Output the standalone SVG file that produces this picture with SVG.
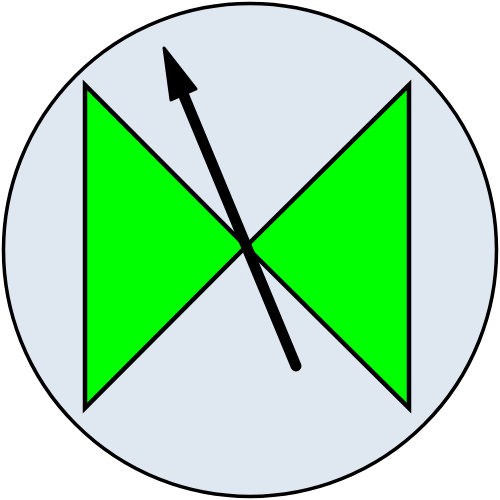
<svg xmlns="http://www.w3.org/2000/svg" width="500" height="500" viewBox="0 0 500 500">
<style>
.bg{fill:#dfe8f1;stroke:#000;stroke-width:3.5}
.tri{fill:#00ff00;stroke:#000;stroke-width:4.5;stroke-linejoin:miter}
.shaft{stroke:#000;stroke-width:11;stroke-linecap:round;fill:none}
.head{fill:#000;stroke:#000;stroke-width:3;stroke-linejoin:round}
</style>
<rect width="500" height="500" fill="#fff"/>
<g id="circle"><circle class="bg" cx="250" cy="250" r="246.5"/></g>
<g id="left-triangle"><polygon class="tri" points="85,85 85,408 246,246.5"/></g>
<g id="right-triangle"><polygon class="tri" points="409,85 409,408 246,246.5"/></g>
<g id="connectors">
<line class="shaft" x1="296" y1="366" x2="184" y2="96"/>
<polygon class="head" points="164,48 196,89 171,100"/>
</g>
</svg>
